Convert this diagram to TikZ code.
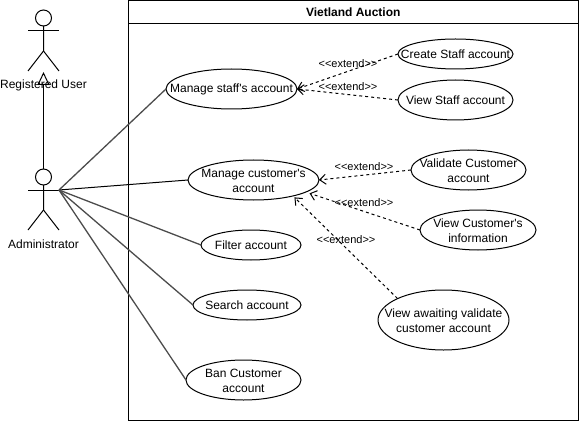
\documentclass[tikz,border=0pt]{standalone}
\usepackage{fontspec}
\setmainfont{Liberation Sans}[Ligatures=TeXOff]
\usetikzlibrary{shapes.geometric, arrows.meta}

\newcommand{\lineup}{\rule{0pt}{11pt}}
\tikzset{
  usecase/.style={draw, ellipse, inner sep=-25pt, outer sep=0pt, align=center},
  assoc/.style={draw=black!70, line width=1.3pt},
  ext/.style={dashed, dash pattern=on 3pt off 3pt, -{Straight Barb[length=6pt,width=10pt]}},
  extlabel/.style={font=\fontsize{11}{13}\selectfont, inner sep=0pt}
}

\begin{document}
\begin{tikzpicture}[x=1pt, y=-1pt, line width=1pt, every node/.style={font=\fontsize{12}{15}\selectfont}]
        \useasboundingbox (0,0) rectangle (580,422);
        % System boundary
        \node[draw, minimum width=449.5pt, minimum height=419.5pt, outer sep=0pt] (frame) at (353.25,210.25) {};
        \node[draw, minimum width=449.5pt, minimum height=23pt, outer sep=0pt, anchor=north, font=\fontsize{12}{15}\selectfont\bfseries] (title) at (frame.north) {Vietland Auction};
        % Registered User
        \node[draw, circle, minimum size=16pt, inner sep=0pt, outer sep=0pt] (reghead) at (43.5,18) {};
        \draw (28,31) -- (59,31);
        \draw (reghead) -- (43.5,51) -- (28,71);
        \draw (43.5,51) -- (59,71);
        \coordinate (regfoot) at (43.5,72);
        \node (reguser) at (43.5,85.5) {Registered User};
        % Administrator
        \node[draw, circle, minimum size=16pt, inner sep=0pt, outer sep=0pt] (adminhead) at (43.5,177) {};
        \draw (28,190) -- (59,190);
        \draw (adminhead) -- (43.5,210) -- (28,230);
        \draw (43.5,210) -- (59,230);
        \coordinate (adminhand) at (59,190);
        \node (admin) at (43.5,244.5) {Administrator};
        % Use cases
        \node[usecase, minimum width=131pt, minimum height=40pt] (mstaff) at (231.5,89) {Manage staff's account};
        \node[usecase, minimum width=131pt, minimum height=40pt] (mcust) at (253.5,180) {\lineup Manage customer's\\account};
        \node[usecase, minimum width=100pt, minimum height=30pt] (filter) at (251,245) {Filter account};
        \node[usecase, minimum width=108pt, minimum height=30pt] (search) at (247,305) {Search account};
        \node[usecase, minimum width=115pt, minimum height=40pt] (ban) at (243.5,380) {\lineup Ban Customer\\account};
        \node[usecase, minimum width=115pt, minimum height=30pt] (cstaff) at (455.5,54) {Create Staff account};
        \node[usecase, minimum width=115pt, minimum height=40pt] (vstaff) at (455.5,100) {View Staff account};
        \node[usecase, minimum width=115pt, minimum height=40pt] (valid) at (468.5,170) {\lineup Validate Customer\\account};
        \node[usecase, minimum width=116pt, minimum height=40pt] (vinfo) at (478,230) {\lineup View Customer's\\information};
        \node[usecase, minimum width=131pt, minimum height=60pt] (await) at (443.5,320) {\lineup View awaiting validate\\customer account};
        % Arrows
        \draw[-{Triangle[open,length=13pt,width=12pt]}] (adminhead) -- (regfoot);
        \draw[assoc] (adminhand) -- (mstaff.west);
        \draw[line width=1pt] (adminhand) -- (mcust.west);
        \draw[assoc] (adminhand) -- (filter.west);
        \draw[assoc] (adminhand) -- (search.west);
        \draw[assoc] (adminhand) -- (ban.west);
        \draw[ext] (cstaff.west) -- (mstaff.east);
        \draw[ext] (vstaff.west) -- (mstaff.east);
        \draw[ext] (valid.west) -- (mcust.east);
        \draw[ext, shorten >=4pt] (vinfo.west) -- (mcust.-13);
        \draw[ext, shorten >=2pt] (await.155) -- (mcust.-22);
        % Labels
        \node[extlabel] (lbcstaff) at (348,63.5) {<<extend>>};
        \node[extlabel] (lbvstaff) at (348,86.5) {<<extend>>};
        \node[extlabel] (lbvalid) at (364,166.5) {<<extend>>};
        \node[extlabel] (lbvinfo) at (364,202.5) {<<extend>>};
        \node[extlabel] (lbawait) at (346,239.5) {<<extend>>};
    \end{tikzpicture}
\end{document}
